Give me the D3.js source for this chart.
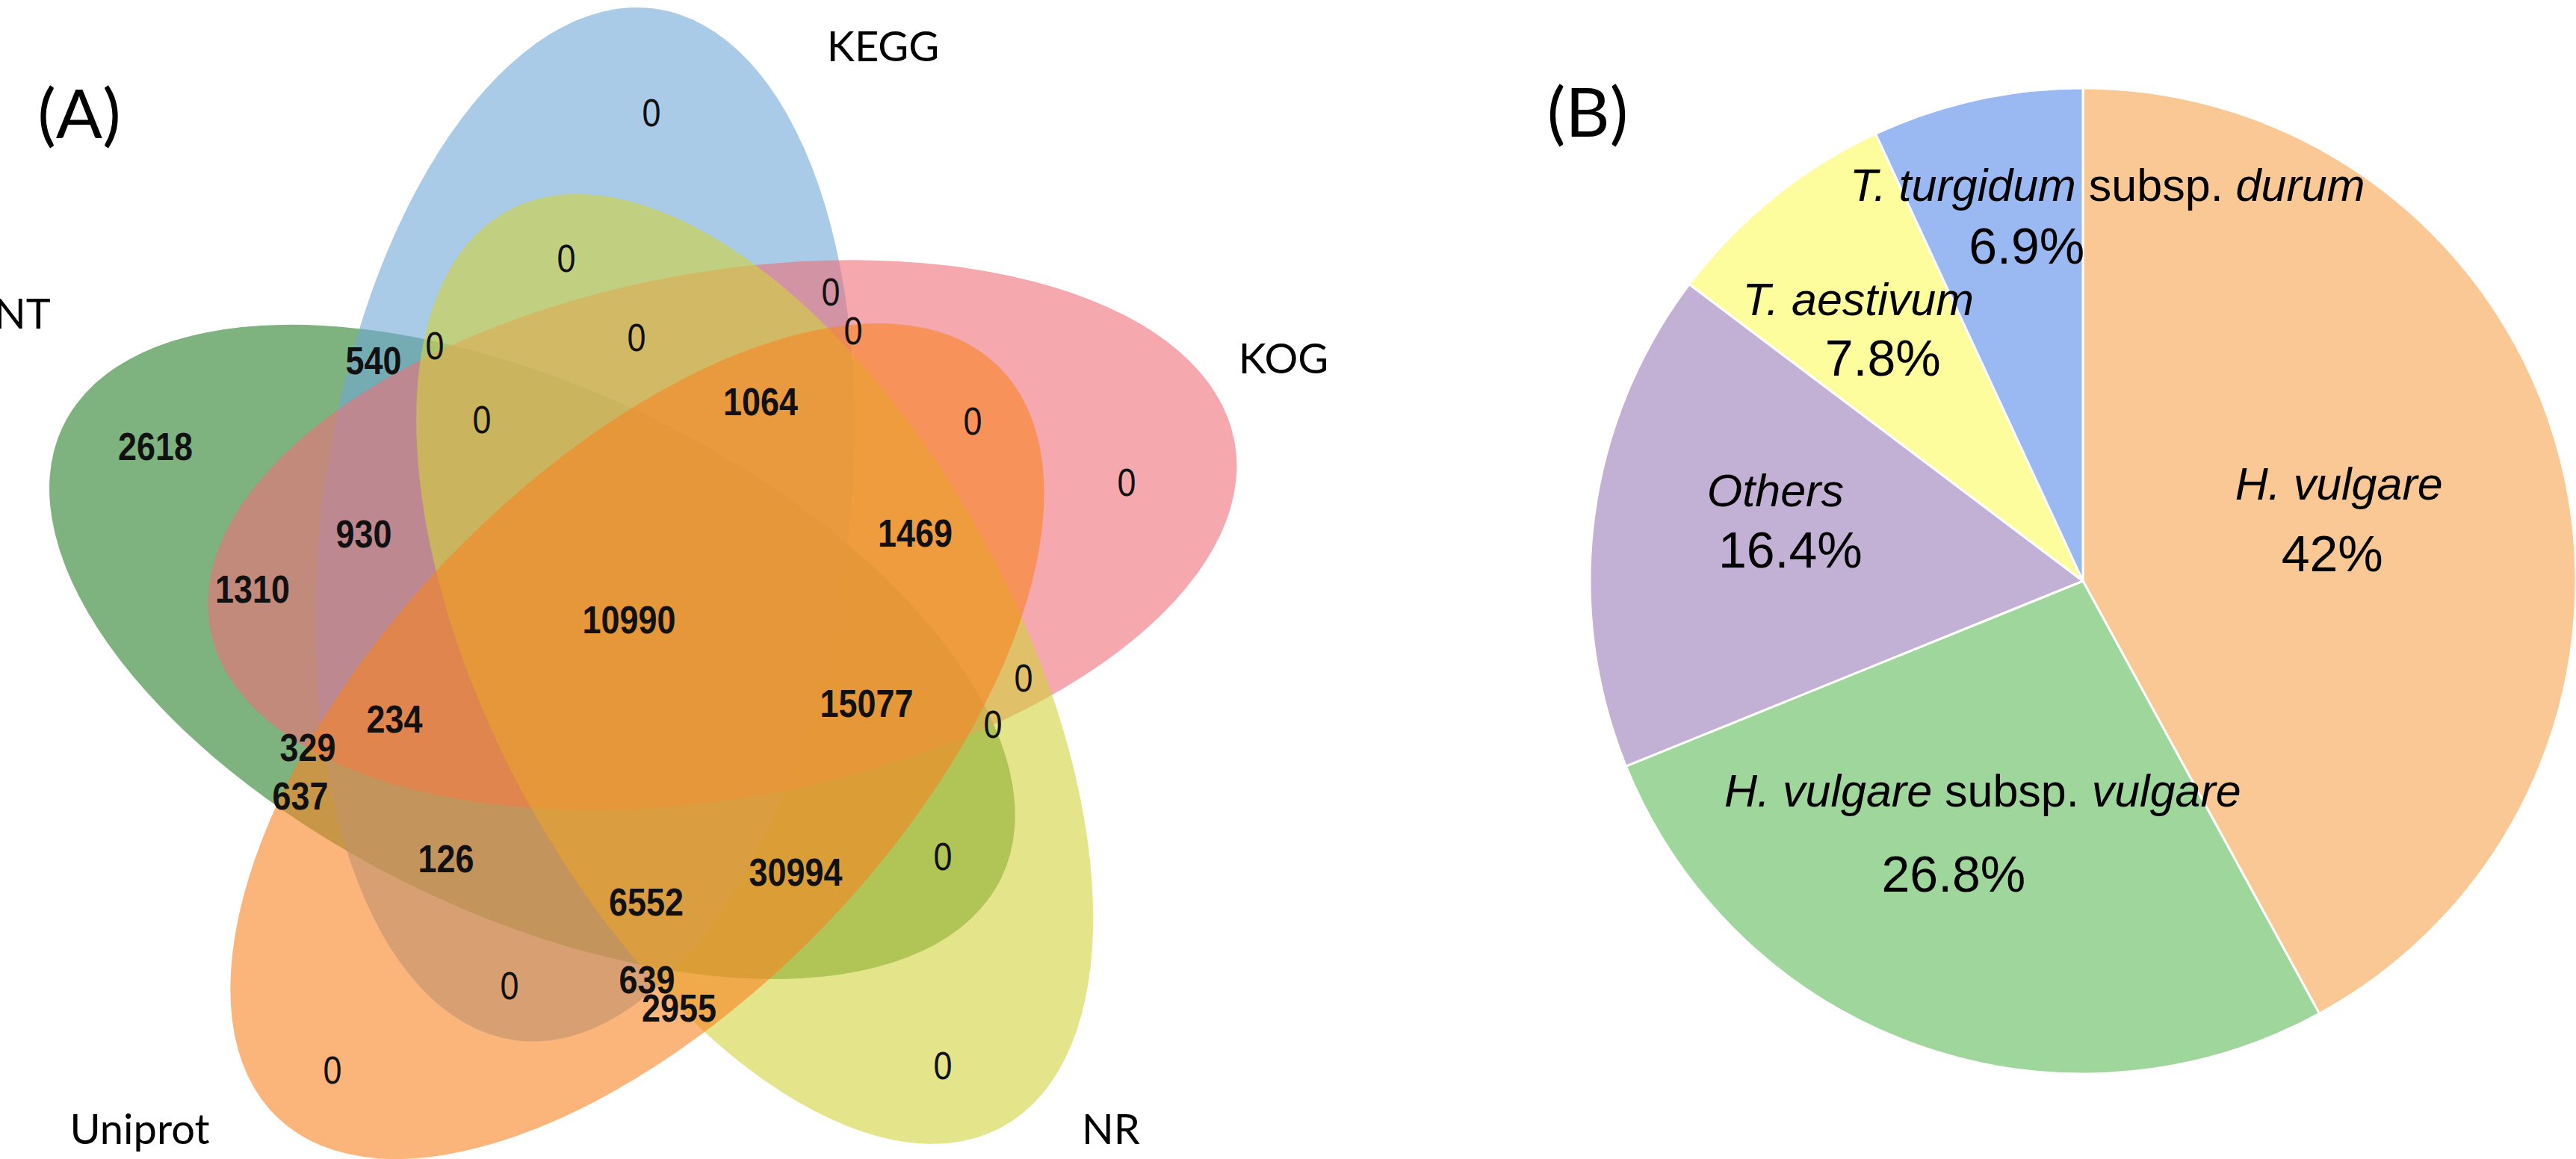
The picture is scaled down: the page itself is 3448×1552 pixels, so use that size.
<!DOCTYPE html>
<html>
<head>
<meta charset="utf-8">
<script src="https://cdn.jsdelivr.net/npm/d3@7"></script>
<style>
  body { margin: 0; background: #fff; }
</style>
</head>
<body>
<div id="chart"></div>
<script>
// ---------- (A) five-set Venn ----------
const setNames = ['NT', 'KEGG', 'KOG', 'NR', 'Uniprot'];
const setColors = ['#287f28', '#70a8d9', '#ee7078', '#d2d23c', '#f88423'];
const setLabelPos = [[30, 420], [1182, 62], [1718, 480], [1487, 1512], [187, 1512]];

// region counts and where the figure printed them
const regionCounts = [0, 0, 0, 0, 540, 0, 0, 0, 1064, 0, 0, 2618, 930, 1469, 1310,
  10990, 15077, 0, 0, 234, 329, 637, 126, 6552, 30994, 0, 0, 639, 2955, 0, 0];
const regionPos = [
  [872, 151], [758, 346], [1112, 391], [1142, 443], [500, 483], [582, 463],
  [852, 452], [645, 562], [1018, 538], [1302, 564], [1508, 646], [208, 598],
  [487, 715], [1225, 714], [338, 789], [842, 830], [1160, 942], [1370, 908],
  [1329, 970], [528, 963], [412, 1001], [402, 1066], [597, 1150], [865, 1208],
  [1065, 1168], [1262, 1147], [682, 1320], [866, 1312], [909, 1350],
  [445, 1433], [1262, 1427]
];

// ---------- (B) species pie ----------
const species = ['H. vulgare', 'H. vulgare subsp. vulgare', 'Others', 'T. aestivum',
  'T. turgidum subsp. durum'];
const shares = [42, 26.8, 16.4, 7.8, 6.9];
const speciesColors = ['#f9c894', '#9fd69b', '#c2b1d5', '#fefd9d', '#9ab9f2'];
// label nudges from the slice centroid (name line, value line)
const nameNudge = [[-41, -32], [-1, -92], [-19, -70], [-52, -69], [118, -144]];
const valueNudge = [[-50, 61], [-40, 19], [1, 10], [-19, 9], [10, -62]];

const W = 3448, H = 1552;

const svg = d3.select('#chart')
  .append('svg')
  .attr('width', W)
  .attr('height', H)
  .style('background', '#fff');

///////// Venn /////////
// five congruent ellipses, each rotated 72 degrees from the previous one
const venn = { cx: 865, cy: 836, a: 697, b: 352, d: 157, offset0: 166.4, tilt0: 25.7 };
const rad = Math.PI / 180;

const ellipses = setNames.map((name, i) => {
  const th = (venn.offset0 + 72 * i) * rad;
  return {
    name,
    color: setColors[i],
    x: venn.cx + venn.d * Math.cos(th),
    y: venn.cy + venn.d * Math.sin(th),
    rot: venn.tilt0 + 72 * i
  };
});

const gA = svg.append('g').attr('class', 'venn');

gA.selectAll('ellipse')
  .data(ellipses)
  .enter()
  .append('ellipse')
  .attr('cx', 0)
  .attr('cy', 0)
  .attr('rx', venn.a)
  .attr('ry', venn.b)
  .attr('transform', (d) => 'translate(' + d.x + ',' + d.y + ') rotate(' + d.rot + ')')
  .attr('fill', (d) => d.color)
  .attr('fill-opacity', 0.6);

// counts were printed in a condensed face: squeeze them horizontally
gA.selectAll('text.count')
  .data(regionCounts)
  .enter()
  .append('text')
  .attr('class', 'count')
  .attr('transform', (d, i) => 'translate(' + regionPos[i][0] + ',' + regionPos[i][1] + ') scale(0.88,1)')
  .attr('dy', '0.36em')
  .attr('text-anchor', 'middle')
  .style('font-family', "'Liberation Sans', Arial, sans-serif")
  .style('font-size', '51px')
  .style('font-weight', (d) => (d === 0 ? 'normal' : 'bold'))
  .attr('fill', '#111')
  .text((d) => d);

gA.selectAll('text.set')
  .data(setNames)
  .enter()
  .append('text')
  .attr('class', 'set')
  .attr('x', (d, i) => setLabelPos[i][0])
  .attr('y', (d, i) => setLabelPos[i][1])
  .attr('dy', '0.36em')
  .attr('text-anchor', 'middle')
  .style('font-family', 'Lato, sans-serif')
  .style('font-size', '56px')
  .attr('fill', '#000')
  .text((d) => d);

svg.append('text')
  .attr('x', 106)
  .attr('y', 152)
  .attr('dy', '0.36em')
  .attr('text-anchor', 'middle')
  .style('font-family', 'Lato, sans-serif')
  .style('font-size', '92px')
  .text('(A)');

///////// Pie /////////
const pieC = { x: 2788, y: 778, r: 660 };
const pieData = species.map((s, i) => ({ name: s, value: shares[i], color: speciesColors[i] }));

const pie = d3.pie().sort(null).value((d) => d.value);
const arc = d3.arc().innerRadius(0).outerRadius(pieC.r);
const labelArc = d3.arc().innerRadius(pieC.r * 0.6).outerRadius(pieC.r * 0.6);

const gB = svg.append('g')
  .attr('transform', 'translate(' + pieC.x + ',' + pieC.y + ')');

const slices = pie(pieData);

gB.selectAll('path')
  .data(slices)
  .enter()
  .append('path')
  .attr('d', arc)
  .attr('fill', (d) => d.data.color)
  .attr('stroke', '#fff')
  .attr('stroke-width', 3);

const labels = gB.selectAll('g.lbl')
  .data(slices)
  .enter()
  .append('g')
  .attr('class', 'lbl')
  .attr('transform', (d) => 'translate(' + labelArc.centroid(d) + ')')
  .style('font-family', "'Liberation Sans', Arial, sans-serif");

// species name: italic except the "subsp." rank word
const nameText = labels.append('text')
  .attr('x', (d, i) => nameNudge[i][0])
  .attr('y', (d, i) => nameNudge[i][1])
  .attr('dy', '0.35em')
  .attr('text-anchor', 'middle')
  .style('font-size', '61px');

nameText.each(function (d) {
  const words = d.data.name.split(' ');
  const t = d3.select(this);
  words.forEach((w, k) => {
    t.append('tspan')
      .style('font-style', w === 'subsp.' ? 'normal' : 'italic')
      .text(w + (k < words.length - 1 ? ' ' : ''));
  });
});

labels.append('text')
  .attr('x', (d, i) => valueNudge[i][0])
  .attr('y', (d, i) => valueNudge[i][1])
  .attr('dy', '0.35em')
  .attr('text-anchor', 'middle')
  .style('font-size', '68px')
  .text((d) => d.data.value + '%');

svg.append('text')
  .attr('x', 2125)
  .attr('y', 150)
  .attr('dy', '0.36em')
  .attr('text-anchor', 'middle')
  .style('font-family', 'Lato, sans-serif')
  .style('font-size', '92px')
  .text('(B)');
</script>
</body>
</html>
